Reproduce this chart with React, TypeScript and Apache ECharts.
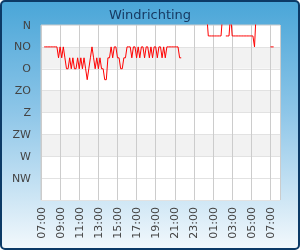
import React, { useEffect, useRef } from "react";
import * as echarts from "echarts";

// Wind direction compass labels (Dutch), one per 45°
const directionLabels = ["N", "NO", "O", "ZO", "Z", "ZW", "W", "NW"];

// Time axis: minutes after 07:00, 25 hours shown, ticks every 2 hours
const axisStartHour = 7;
const axisMaxMinutes = 1500;
const tickMinutes = 120;
const sampleMinutes = 10;

// Readings (degrees; -22.5 = NNW, drawn above N and clipped), 10-minute samples
const segA_start = 20; // 07:20
const segA = [
  45, 45, 45, 45, 45, 45, 45, 45,
  45, 67.5, 45, 67.5, 45, 67.5,
  90, 90, 67.5, 90, 67.5, 90, 90, 67.5, 90, 67.5, 90, 67.5, 90, 112.5,
  90, 67.5, 45, 67.5, 90, 67.5, 90, 67.5, 90, 90,
  112.5, 112.5, 67.5, 67.5, 45, 67.5, 45, 45, 67.5, 67.5,
  90, 90, 67.5, 67.5, 45, 45, 45, 67.5, 45, 45,
  67.5, 45, 67.5, 45, 45, 67.5, 45, 45, 67.5, 45,
  67.5, 45, 45, 67.5, 45, 45, 67.5, 45, 67.5, 45,
  45, 45, 45, 45, 45, 45, 45, 67.5, 67.5,
];
const segB_start = 1040; // 00:20
const segB = [-22.5, 22.5, 22.5, 22.5, 22.5, 22.5, 22.5, 22.5, 22.5, 22.5, -22.5];
const segC_start = 1160; // 02:20
const segC = [
  22.5, 22.5, 22.5, -22.5,
  22.5, 22.5, 22.5, 22.5, 22.5, 22.5, 22.5, 22.5, 22.5, 22.5, 22.5, 22.5, 22.5, 22.5,
  45, -22.5,
];
const segD_start = 1440; // 07:00
const segD = [45, 45, 45];

function buildData(): (number | null)[][] {
  const out: (number | null)[][] = [];
  const segs: [number, number[]][] = [
    [segA_start, segA],
    [segB_start, segB],
    [segC_start, segC],
    [segD_start, segD],
  ];
  segs.forEach(([start, vals], si) => {
    vals.forEach((v, i) => out.push([start + i * sampleMinutes, v]));
    if (si < segs.length - 1) {
      out.push([start + vals.length * sampleMinutes, null]);
    }
  });
  return out;
}

function fmtTime(v: number): string {
  const total = axisStartHour * 60 + v;
  const h = Math.floor(total / 60) % 24;
  const m = Math.round(total % 60);
  return String(h).padStart(2, "0") + ":" + String(m).padStart(2, "0");
}

export default function App() {
  const ref = useRef<HTMLDivElement>(null);
  useEffect(() => {
    if (!ref.current) return;
    const chart = echarts.init(ref.current, undefined, { renderer: "svg" });
    chart.setOption({
      animation: false,
      title: {
        text: "Windrichting",
        left: "center",
        top: 3,
        textStyle: {
          fontFamily: "DejaVu Sans",
          fontSize: 13,
          fontWeight: "normal",
          color: "#173a63",
        },
      },
      grid: {
        left: 41,
        right: 20,
        top: 25,
        bottom: 50,
        show: true,
        backgroundColor: "#ffffff",
        borderColor: "#cccccc",
        borderWidth: 1,
      },
      xAxis: {
        type: "value",
        min: 0,
        max: axisMaxMinutes,
        interval: tickMinutes,
        axisLine: { show: false },
        axisTick: { show: false },
        splitLine: { show: true, lineStyle: { color: "#cccccc", width: 1 } },
        axisLabel: {
          rotate: 90,
          margin: 7,
          showMaxLabel: false,
          color: "#444444",
          fontFamily: "DejaVu Sans",
          fontSize: 11,
          formatter: (v: number) => fmtTime(v),
        },
      },
      yAxis: {
        type: "value",
        inverse: true,
        min: 0,
        max: 360,
        interval: 45,
        axisLine: { show: false },
        axisTick: { show: false },
        splitLine: { show: true, lineStyle: { color: "#e2e2e2", width: 1 } },
        splitArea: {
          show: true,
          areaStyle: {
            color: [
              "#ffffff", "#f2f2f2", "#ffffff", "#f2f2f2",
              "#ffffff", "#f2f2f2", "#ffffff", "#ffffff",
            ],
          },
        },
        axisLabel: {
          margin: 10,
          color: "#444444",
          fontFamily: "DejaVu Sans",
          fontSize: 11,
          formatter: (v: number) => directionLabels[Math.round(v / 45)] ?? "",
        },
      },
      series: [
        {
          type: "line",
          data: buildData(),
          showSymbol: false,
          symbol: "none",
          clip: true,
          connectNulls: false,
          lineStyle: { color: "#ff0000", width: 1 },
        },
      ],
    });
    return () => chart.dispose();
  }, []);

  return (
    <div style={{ position: "fixed", left: 0, top: 0, width: 300, height: 250 }}>
      <div
        style={{
          position: "absolute",
          left: 0,
          top: 0,
          width: 300,
          height: 250,
          boxSizing: "border-box",
          border: "2px solid #0c3a66",
          borderRadius: 5,
          background: "linear-gradient(to bottom, #4aa6d8 0%, #8ec6e8 45%, #f2f8fc 100%)",
        }}
      />
      <div ref={ref} style={{ position: "absolute", left: 0, top: 0, width: 300, height: 250 }} />
    </div>
  );
}
